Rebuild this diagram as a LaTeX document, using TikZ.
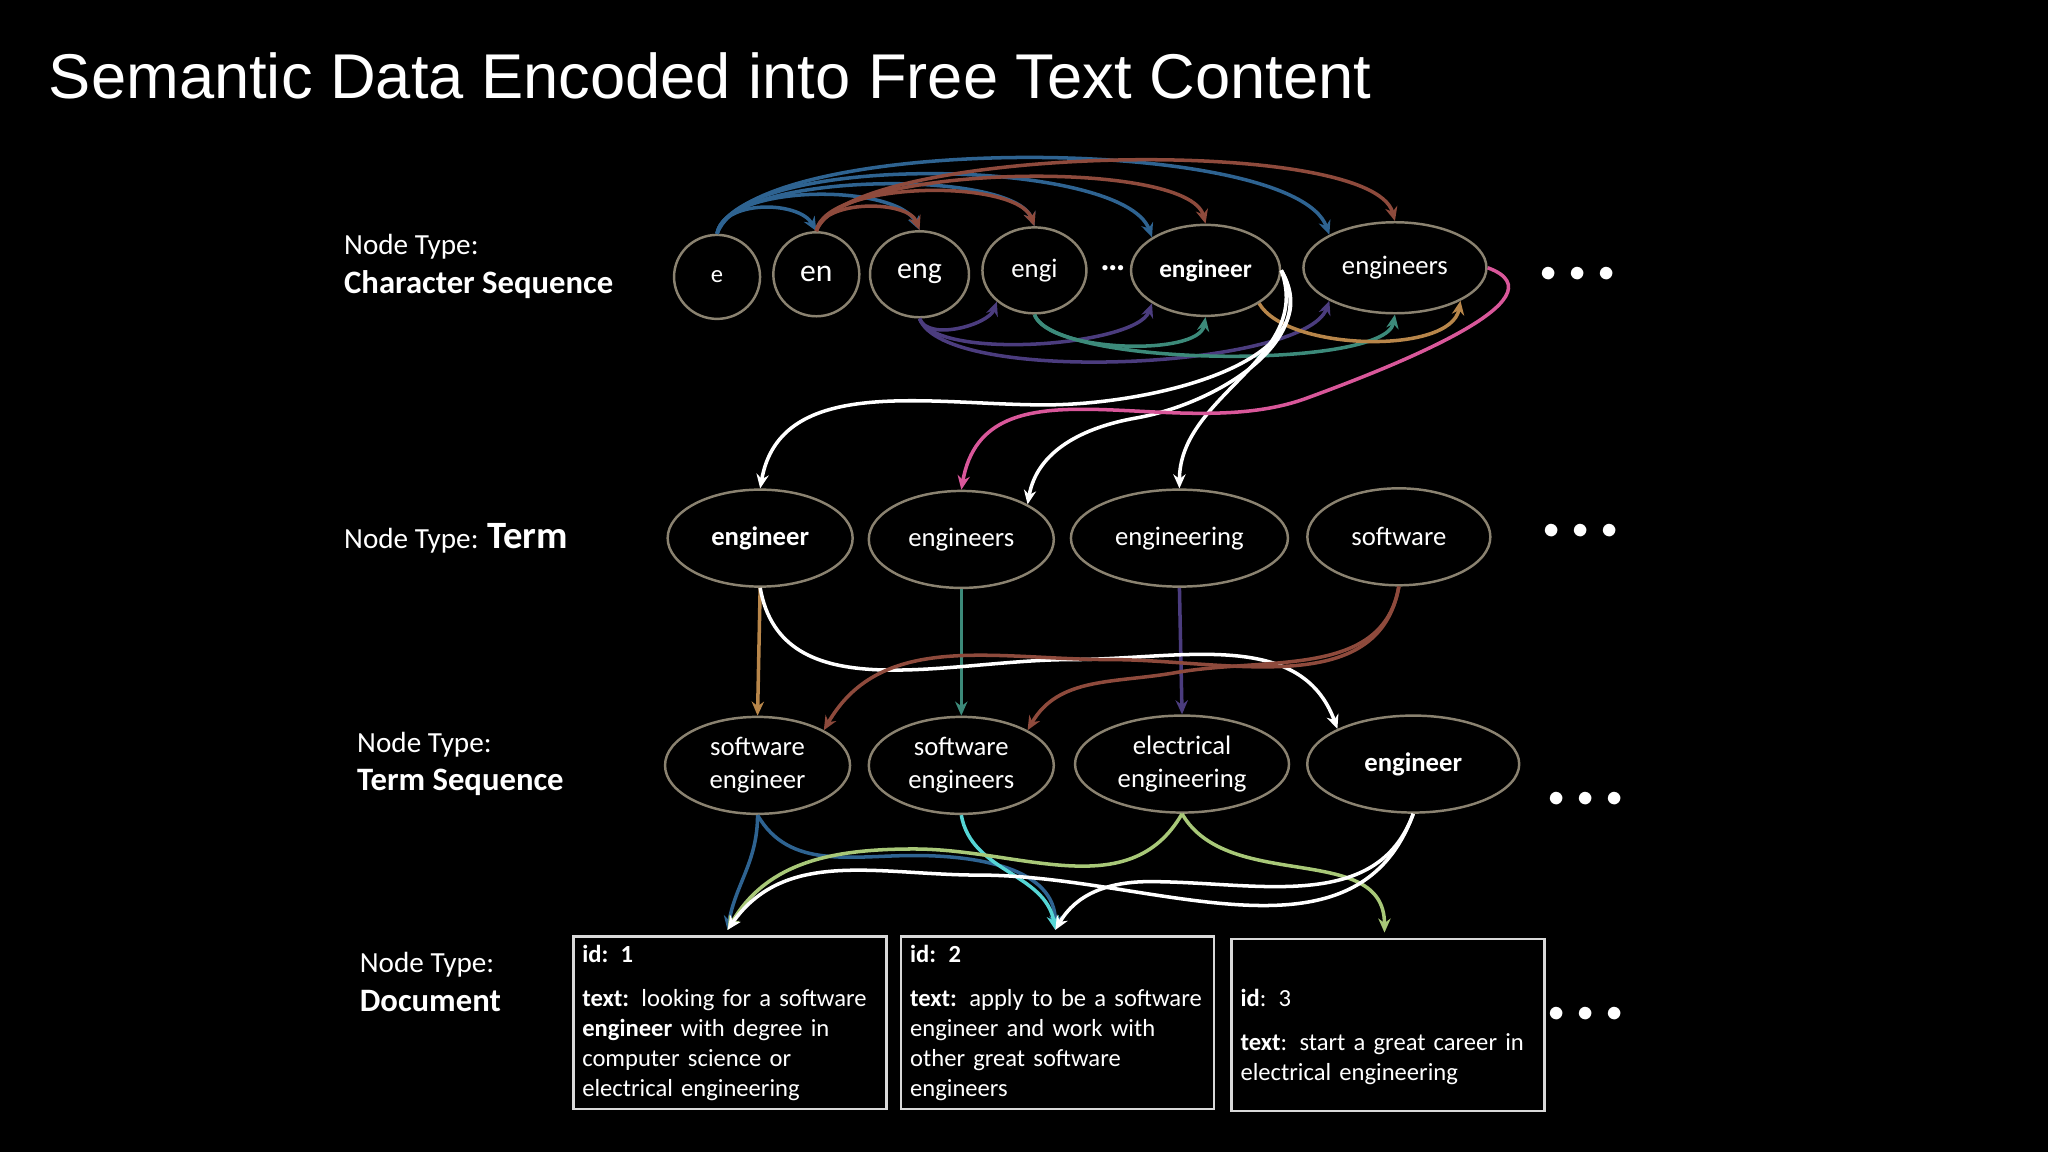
\documentclass[tikz,border=0pt]{standalone}
\usepackage{fontspec}
\setmainfont{Carlito}
\newfontfamily\titlefont{Liberation Sans}
\usetikzlibrary{shapes.geometric,arrows.meta}
\definecolor{cblue}{HTML}{2E6391}
\definecolor{cbrown}{HTML}{8E4A3C}
\definecolor{cpink}{HTML}{D9579A}
\definecolor{cpurple}{HTML}{4B3C7E}
\definecolor{cteal}{HTML}{3C8A7A}
\definecolor{ctan}{HTML}{B8864A}
\definecolor{cgreen}{HTML}{A8C878}
\definecolor{ccyan}{HTML}{55D5D5}
\definecolor{cedge}{HTML}{8A8270}
\tikzset{
 ell/.style={ellipse,draw=cedge,line width=0.7pt,inner sep=0pt,text=white,font=\fontsize{7.6}{9.3}\selectfont,align=center},
 doc/.style={rectangle,draw=white!85!black,line width=0.7pt,minimum width=3.13cm,minimum height=1.72cm,text width=2.95cm,align=left,text=white,font=\fontsize{7}{8.5}\selectfont,inner sep=2.5pt,anchor=north west},
 lab/.style={text=white,align=left,anchor=west,font=\fontsize{8.3}{10}\selectfont},
 dots/.style={text=white,font=\fontsize{9}{9}\selectfont},
 con/.style={-{Stealth[length=4pt,width=3.5pt]},line width=1pt}
}
\begin{document}
\begin{tikzpicture}[x=0.01306cm,y=-0.01306cm]
\fill[black] (0,0) rectangle (1568,882);
\useasboundingbox (0,0) rectangle (1568,882);
\node[anchor=west,text=white,font=\titlefont\fontsize{18}{20}\selectfont] (title) at (28,58) {Semantic Data Encoded into Free Text Content};
% labels
\node[lab] (l1) at (254,204) {Node Type:\\[1pt]{\bfseries\fontsize{9.3}{11}\selectfont Character Sequence}};
\node[lab] (l2) at (254,412) {Node Type: {\bfseries\fontsize{11}{11}\selectfont Term}};
\node[lab] (l3) at (264,585) {Node Type:\\[1pt]{\bfseries\fontsize{9.3}{11}\selectfont Term Sequence}};
\node[lab] (l4) at (266,752) {Node Type:\\[1pt]{\bfseries\fontsize{9.3}{11}\selectfont Document}};
% char seq
\node[ell,minimum width=0.86cm,minimum height=0.84cm,font=\fontsize{7}{9}\selectfont] (c1) at (549,212) {e};
\node[ell,minimum width=0.86cm,minimum height=0.84cm,font=\fontsize{9}{10}\selectfont] (c2) at (625,210) {en};
\node[ell,minimum width=0.99cm,minimum height=0.86cm,font=\fontsize{8.5}{10}\selectfont] (c3) at (704,210) {eng};
\node[ell,minimum width=1.04cm,minimum height=0.86cm] (c4) at (792,207) {engi};
\node[text=white] (cd) at (852,205) {\textbf{\dots}};
\node[ell,minimum width=1.49cm,minimum height=0.91cm,font=\bfseries\fontsize{7.2}{10}\selectfont] (c5) at (923,207) {engineer};
\node[ell,minimum width=1.83cm,minimum height=0.91cm] (c6) at (1068,205) {engineers};
\node[dots] (d1) at (1208,210) {$\bullet\,\bullet\,\bullet$};
% terms
\node[ell,minimum width=1.85cm,minimum height=0.97cm,font=\bfseries\fontsize{7.6}{10}\selectfont] (t1) at (582,412) {engineer};
\node[ell,minimum width=1.85cm,minimum height=0.97cm] (t2) at (736,413) {engineers};
\node[ell,minimum width=2.17cm,minimum height=0.97cm] (t3) at (903,412) {engineering};
\node[ell,minimum width=1.83cm,minimum height=0.97cm] (t4) at (1071,411) {software};
\node[dots] (d2) at (1210,407) {$\bullet\,\bullet\,\bullet$};
% term sequences
\node[ell,minimum width=1.85cm,minimum height=0.97cm] (s1) at (580,586) {software\\engineer};
\node[ell,minimum width=1.85cm,minimum height=0.97cm] (s2) at (736,586) {software\\engineers};
\node[ell,minimum width=2.14cm,minimum height=0.97cm] (s3) at (905,585) {electrical\\engineering};
\node[ell,minimum width=2.12cm,minimum height=0.97cm,font=\bfseries\fontsize{7.6}{10}\selectfont] (s4) at (1082,585) {engineer};
\node[dots] (d3) at (1214,612) {$\bullet\,\bullet\,\bullet$};
% documents
\node[doc] (doc1) at (438,716) {\textbf{id: 1}\\[4pt]\textbf{text:} looking for a software\\\textbf{engineer} with degree in\\computer science or\\electrical engineering};
\node[doc] (doc2) at (689,716) {\textbf{id: 2}\\[4pt]\textbf{text:} apply to be a software\\engineer and work with\\other great software\\engineers};
\node[doc] (doc3) at (942,718) {\\[3pt]\textbf{id}: 3\\[4pt]\textbf{text}: start a great career in\\electrical engineering\\};
\node[dots] (d4) at (1214,777) {$\bullet\,\bullet\,\bullet$};
% top arcs
\begin{scope}[con,draw=cblue]
\draw (c1.north) to[out=80,in=120,looseness=0.9] (c2.north);
\draw (c1.north) to[out=80,in=115,looseness=0.65] (c3.north);
\draw (c1.north) to[out=80,in=110,looseness=0.5] (c4.north);
\draw (c1.north) to[out=75,in=110,looseness=0.5] (c5.north west);
\draw (c1.north) to[out=70,in=110,looseness=0.45] (c6.north west);
\end{scope}
\begin{scope}[con,draw=cbrown]
\draw (c2.north) to[out=80,in=110,looseness=0.8] (c3.north);
\draw (c2.north) to[out=80,in=110,looseness=0.6] (c4.north);
\draw (c2.north) to[out=75,in=105,looseness=0.45] (c5.north);
\draw (c2.north) to[out=70,in=105,looseness=0.4] (c6.north);
\end{scope}
\draw[con,draw=cpurple] (c3.south) to[out=-70,in=-110,looseness=0.8] (c4.south west);
\draw[con,draw=cpurple] (c3.south) to[out=-70,in=-110,looseness=0.5] (c5.south west);
\draw[con,draw=cpurple] (c3.south) to[out=-70,in=-110,looseness=0.45] (c6.south west);
\draw[con,draw=cteal] (c4.south) to[out=-70,in=-100,looseness=0.6] (c5.south);
\draw[con,draw=cteal] (c4.south) to[out=-70,in=-100,looseness=0.4] (c6.south);
\draw[con,draw=ctan] (c5.south east) to[out=-60,in=-100,looseness=0.7] (c6.south east);
% to terms
\draw[con,draw=white] (c5.east) to[out=-60,in=0] (800,310) to[out=180,in=80] (t1.north);
\draw[con,draw=white] (c5.east) to[out=-60,in=10] (870,320) to[out=190,in=80] (t2.north east);
\draw[con,draw=white] (c5.east) to[out=-70,in=90] (t3.north);
\draw[con,draw=cpink] (c6.east) to[out=-20,in=20] (1000,305) to[out=200,in=80] (t2.north);
% term -> term seq
\draw[con,draw=ctan] (t1.south) -- (s1.north);
\draw[con,draw=cteal] (t2.south) -- (s2.north);
\draw[con,draw=cpurple] (t3.south) -- (s3.north);
\draw[con,draw=white] (t1.south) to[out=-80,in=180] (820,505) to[out=0,in=110] (s4.north west);
\draw[con,draw=cbrown] (t4.south) to[out=-100,in=0] (850,505) to[out=180,in=60] (s1.north east);
\draw[con,draw=cbrown] (t4.south) to[out=-100,in=10] (900,515) to[out=190,in=60] (s2.north east);
% term seq -> documents
\draw[con,draw=cblue] (s1.south) to[out=-90,in=80] (557,712);
\draw[con,draw=cblue] (s1.south) to[out=-60,in=180] (700,655) to[out=0,in=90] (808,712);
\draw[con,draw=ccyan] (s2.south) to[out=-80,in=100] (808,712);
\draw[con,draw=cgreen] (s3.south) to[out=-120,in=0] (700,650) to[out=180,in=60] (557,712);
\draw[con,draw=cgreen] (s3.south) to[out=-60,in=90] (1060,714);
\draw[con,draw=white] (s4.south) to[out=-110,in=0] (750,670) to[out=180,in=55] (557,712);
\draw[con,draw=white] (s4.south) to[out=-110,in=0] (880,675) to[out=180,in=60] (808,712);
\end{tikzpicture}
\end{document}
